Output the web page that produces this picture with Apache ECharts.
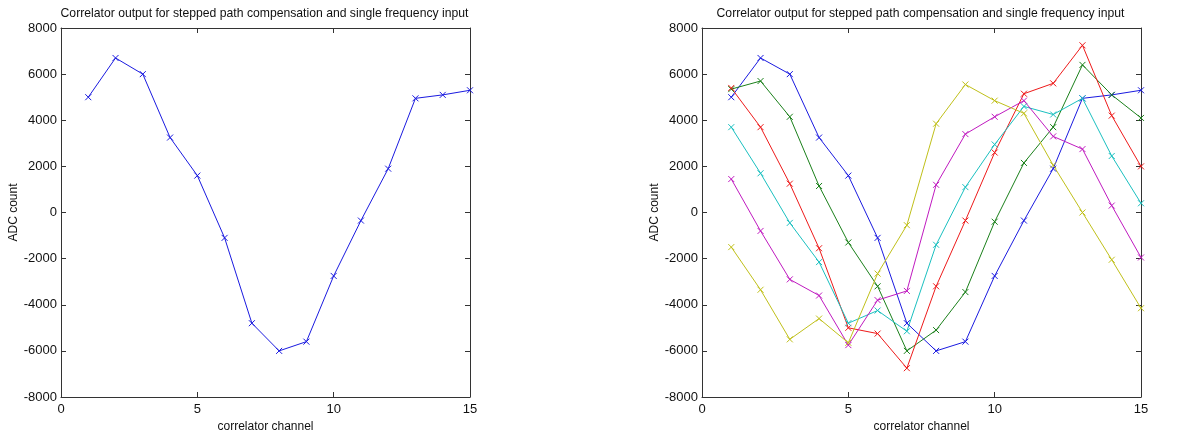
<!DOCTYPE html>
<html><head><meta charset="utf-8">
<script src="https://cdn.jsdelivr.net/npm/echarts@6/dist/echarts.min.js"></script>
<style>html,body{margin:0;padding:0;background:#fff}#c{width:1200px;height:439px}</style>
</head><body><div id="c"></div>
<script>
const channels = [1,2,3,4,5,6,7,8,9,10,11,12,13,14,15];
const titleText = 'Correlator output for stepped path compensation and single frequency input';
const xName = 'correlator channel';
const yName = 'ADC count';
const blue    = [5000, 6700, 6000, 3250, 1600, -1100, -4800, -6000, -5600, -2750, -350, 1900, 4950, 5100, 5300];
const green   = [5350, 5700, 4150, 1150, -1300, -3200, -6000, -5100, -3450, -400, 2150, 3700, 6400, 5100, 4100];
const red     = [5400, 3700, 1250, -1550, -5000, -5250, -6750, -3200, -350, 2600, 5150, 5600, 7250, 4200, 2000];
const cyan    = [3700, 1700, -450, -2150, -4800, -4250, -5150, -1400, 1100, 2950, 4600, 4250, 4950, 2450, 400];
const magenta = [1450, -800, -2900, -3600, -5750, -3800, -3400, 1200, 3400, 4150, 4850, 3300, 2750, 300, -1950];
const yellow  = [-1500, -3350, -5500, -4600, -5650, -2650, -550, 3850, 5550, 4850, 4300, 2050, 0, -2050, -4150];

const rightSeries = [
  {name:'b', data: blue, color:'#1a1ae0'},
  {name:'g', data: green, color:'#1a801a'},
  {name:'r', data: red, color:'#ee1a1a'},
  {name:'c', data: cyan, color:'#1ac0c0'},
  {name:'m', data: magenta, color:'#c01ac0'},
  {name:'y', data: yellow, color:'#c0c01a'}
];

const FONT = 'Liberation Sans, Arial, sans-serif';
const grids = [
  {left:61, top:28, width:409, height:369},
  {left:702, top:28, width:439, height:369}
];
const axisLine = {show:true, onZero:false, lineStyle:{color:'#333', width:1}};
const tick = {show:true, inside:true, length:5, lineStyle:{color:'#333'}};
const xAxes = [], yAxes = [];
grids.forEach((g, i) => {
  xAxes.push({type:'value', gridIndex:i, min:0, max:15, interval:5, position:'bottom',
    axisLine, axisTick:tick,
    axisLabel:{color:'#111', fontSize:13, fontFamily:FONT, margin:6},
    splitLine:{show:false},
    name:xName, nameLocation:'middle', nameGap:24, nameTextStyle:{color:'#111', fontSize:12, fontFamily:FONT}});
  xAxes.push({type:'value', gridIndex:i, min:0, max:15, interval:5, position:'top',
    axisLine, axisTick:tick, axisLabel:{show:false}, splitLine:{show:false}});
  yAxes.push({type:'value', gridIndex:i, min:-8000, max:8000, interval:2000, position:'left',
    axisLine, axisTick:tick,
    axisLabel:{color:'#111', fontSize:13, fontFamily:FONT, margin:4, formatter: v => String(v)},
    splitLine:{show:false},
    name:yName, nameLocation:'middle', nameGap:41, nameRotate:90, nameTextStyle:{color:'#111', fontSize:12, fontFamily:FONT}});
  yAxes.push({type:'value', gridIndex:i, min:-8000, max:8000, interval:2000, position:'right',
    axisLine, axisTick:tick, axisLabel:{show:false}, splitLine:{show:false}});
});

const X_SYMBOL = 'path://M0,0L10,10M10,0L0,10';
function mk(s, gi) {
  return {type:'line', name:s.name, xAxisIndex:gi*2, yAxisIndex:gi*2,
    data: channels.map((c, k) => [c, s.data[k]]),
    symbol: X_SYMBOL, symbolSize: 6, showAllSymbol:true,
    lineStyle:{color:s.color, width:1},
    itemStyle:{color:'transparent', borderColor:s.color, borderWidth:1},
    animation:false};
}
const series = [mk(rightSeries[0], 0)].concat(rightSeries.map(s => mk(s, 1)));

const chart = echarts.init(document.getElementById('c'), null, {renderer:'canvas'});
chart.setOption({
  backgroundColor:'#fff',
  animation:false,
  title: grids.map(g => ({text:titleText, left: g.left + g.width/2 - 6, top:3, textAlign:'center',
    textStyle:{fontSize:12.2, fontWeight:'normal', color:'#111', fontFamily:FONT}})),
  grid: grids,
  xAxis: xAxes,
  yAxis: yAxes,
  series
});
</script></body></html>
